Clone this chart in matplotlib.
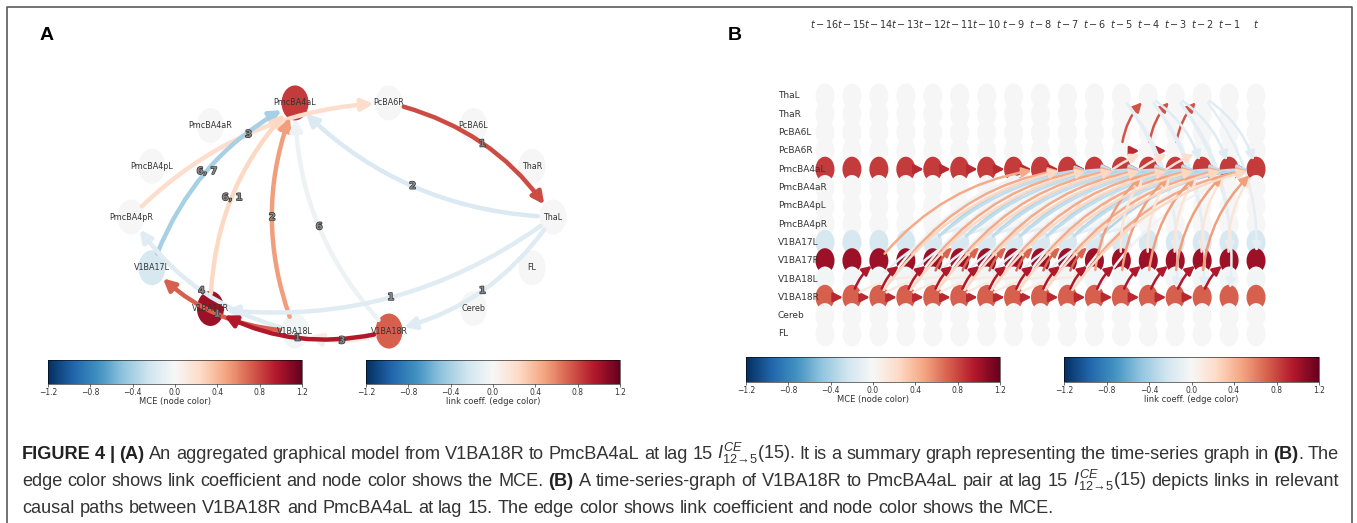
import numpy as np
import matplotlib
matplotlib.use('Agg')
import matplotlib.pyplot as plt
import matplotlib.patheffects as pe
from matplotlib.patches import Ellipse, FancyArrowPatch
from matplotlib.colors import Normalize
from matplotlib import cm

# ── data ──────────────────────────────────────────────────────────────────────
variables = ['ThaL', 'ThaR', 'PcBA6L', 'PcBA6R', 'PmcBA4aL', 'PmcBA4aR',
             'PmcBA4pL', 'PmcBA4pR', 'V1BA17L', 'V1BA17R', 'V1BA18L',
             'V1BA18R', 'Cereb', 'FL']
node_mce = [0.0, 0.0, 0.0, 0.0, 0.84, 0.0, 0.0, 0.0, -0.2, 1.03, -0.03, 0.72, 0.0, 0.0]

# panel A: aggregated links (lag labels as shown on the edges)
a_src  = ['PcBA6R', 'ThaL', 'PmcBA4pR', 'V1BA17L', 'V1BA17R', 'V1BA18L', 'V1BA18R',
          'ThaL', 'ThaL', 'V1BA18L', 'V1BA18R', 'V1BA18L', 'V1BA18R']
a_dst  = ['ThaL', 'PmcBA4aL', 'PcBA6R', 'PmcBA4aL', 'PmcBA4aL', 'PmcBA4aL', 'PmcBA4aL',
          'V1BA17R', 'V1BA18R', 'PmcBA4pR', 'V1BA18L', 'V1BA17L', 'V1BA17R']
a_coef = [0.78, -0.18, 0.22, -0.4, 0.25, 0.5, -0.06, -0.15, -0.15, -0.15, 0.1, 0.72, 0.96]
a_lags = ['1', '2', '3', '6, 7', '6, 1', '2', '6', '1', '1', '4', '3', '1', '1']

# panel B: time-series graph links (target time index range shown)
time_labels = ['$t-16$', '$t-15$', '$t-14$', '$t-13$', '$t-12$', '$t-11$', '$t-10$',
               '$t-9$', '$t-8$', '$t-7$', '$t-6$', '$t-5$', '$t-4$', '$t-3$',
               '$t-2$', '$t-1$', '$t$']
b_src   = ['V1BA18R', 'PmcBA4aL', 'PcBA6R', 'PcBA6R', 'ThaL', 'ThaL', 'ThaL',
           'V1BA18R', 'V1BA18L', 'V1BA18R', 'PmcBA4pR', 'V1BA17L', 'V1BA17L',
           'V1BA17R', 'V1BA17R', 'V1BA18L', 'V1BA18R', 'V1BA18L', 'V1BA18R']
b_dst   = ['V1BA18R', 'PmcBA4aL', 'ThaL', 'PcBA6R', 'PmcBA4aL', 'V1BA17R', 'V1BA18R',
           'PmcBA4aL', 'PmcBA4pR', 'V1BA18L', 'PcBA6R', 'PmcBA4aL', 'PmcBA4aL',
           'PmcBA4aL', 'PmcBA4aL', 'PmcBA4aL', 'V1BA17R', 'V1BA17L', 'PmcBA4aL']
b_lag   = [1, 1, 1, 1, 2, 2, 2, 6, 4, 3, 3, 6, 7, 6, 1, 2, 1, 1, 7]
b_coef  = [0.9, 0.9, 0.75, 0.9, -0.15, -0.12, -0.12, -0.05, -0.12, 0.12, 0.2,
           -0.35, -0.3, 0.45, 0.15, 0.5, 0.96, 0.7, 0.25]
b_first = [1, 4, 12, 12, 14, 13, 13, 8, 6, 4, 12, 10, 11, 8, 12, 12, 2, 5, 9]
b_last  = [14, 16, 14, 13, 16, 16, 15, 16, 12, 10, 14, 16, 16, 16, 16, 16, 15, 10, 16]

cbar_ticks = [-1.2, -0.8, -0.4, 0.0, 0.4, 0.8, 1.2]

caption = [
    r"*FIGURE 4 | (A)* An aggregated graphical model from V1BA18R to PmcBA4aL at lag 15 $I^{CE}_{12\!\to\!5}$(15). It is a summary graph representing the time-series graph in *(B)*. The",
    r"edge color shows link coefficient and node color shows the MCE. *(B)* A time-series-graph of V1BA18R to PmcBA4aL pair at lag 15 $I^{CE}_{12\!\to\!5}$(15) depicts links in relevant",
    r"causal paths between V1BA18R and PmcBA4aL at lag 15. The edge color shows link coefficient and node color shows the MCE.",
]

# ── setup ─────────────────────────────────────────────────────────────────────
plt.rcParams['mathtext.fontset'] = 'custom'
plt.rcParams['mathtext.rm'] = 'Liberation Sans'
plt.rcParams['mathtext.it'] = 'Liberation Sans:italic'
plt.rcParams['mathtext.bf'] = 'Liberation Sans:bold'

W, H = 1357, 523
fig = plt.figure(figsize=(W / 100, H / 100), dpi=100)
ax = fig.add_axes([0, 0, 1, 1])
ax.set_xlim(0, W)
ax.set_ylim(H, 0)
ax.axis('off')

cmap = plt.get_cmap('RdBu_r')
norm = Normalize(-1.2, 1.2)
idx = {v: i for i, v in enumerate(variables)}

# frame
ax.plot([7, 7, 1352, 1352], [H, 7, 7, H], color='#4d4d4d', lw=1.1, zorder=0)

ax.text(47, 35, 'A', fontsize=14, fontweight='bold', family='Liberation Sans',
        ha='center', va='center')
ax.text(735, 35, 'B', fontsize=14, fontweight='bold', family='Liberation Sans',
        ha='center', va='center')


def arc_arrow(p1, p2, val, lw, rad, shrink, hl, hw, z=2):
    a = FancyArrowPatch(p1, p2, connectionstyle=f'arc3,rad={rad}',
                        arrowstyle=f'-|>,head_length={hl},head_width={hw}',
                        mutation_scale=10, lw=lw, color=cmap(norm(val)),
                        shrinkA=shrink, shrinkB=shrink, zorder=z)
    ax.add_patch(a)


# ── panel A: aggregated graph ─────────────────────────────────────────────────
cx, cy, rx, ry = 342, 217, 211, 117
ang = np.arange(len(variables)) * 2 * np.pi / len(variables)
pos_a = {v: (cx + rx * np.cos(t), cy - ry * np.sin(t)) for v, t in zip(variables, ang)}

for v, m in zip(variables, node_mce):
    x, y = pos_a[v]
    ax.add_patch(Ellipse((x, y), 27, 35, color=cmap(norm(m)), lw=0, zorder=1))

RAD = -0.2
for s, d, c, lab in zip(a_src, a_dst, a_coef, a_lags):
    p1, p2 = pos_a[s], pos_a[d]
    arc_arrow(p1, p2, c, 3.2, RAD, 11, 0.7, 0.35)
    dx, dy = p2[0] - p1[0], p2[1] - p1[1]
    mx = (p1[0] + p2[0]) / 2 - 0.5 * RAD * dy
    my = (p1[1] + p2[1]) / 2 + 0.5 * RAD * dx
    ax.text(mx, my, lab, fontsize=7, fontweight='bold', color='#888',
            ha='center', va='center', zorder=4,
            path_effects=[pe.withStroke(linewidth=1.0, foreground='#333')])

for v in variables:
    x, y = pos_a[v]
    ax.text(x, y, v, fontsize=5.8, color='#333', ha='center', va='center', zorder=5)

# ── panel B: time-series graph ────────────────────────────────────────────────
col_x = 825 + np.arange(len(time_labels)) * 26.94
row_y = 96 + np.arange(len(variables)) * 18.3

for i, (v, m) in enumerate(zip(variables, node_mce)):
    for x in col_x:
        ax.add_patch(Ellipse((x, row_y[i]), 19, 25, color=cmap(norm(m)), lw=0, zorder=1))
    ax.text(778, row_y[i], v, fontsize=6.5, color='#333', ha='left', va='center', zorder=5)

for k, lab in enumerate(time_labels):
    ax.text(col_x[k], 24, lab, fontsize=7, color='#333', ha='center', va='center',
            math_fontfamily='dejavusans')

for s, d, lag, c, t0, t1 in zip(b_src, b_dst, b_lag, b_coef, b_first, b_last):
    for t in range(t0, t1 + 1):
        if t - lag < 0:
            continue
        p1 = (col_x[t - lag], row_y[idx[s]])
        p2 = (col_x[t], row_y[idx[d]])
        rad = 0.0 if s == d else -0.2
        arc_arrow(p1, p2, c, 1.8, rad, 6.5, 0.55, 0.28)

# ── colorbars ─────────────────────────────────────────────────────────────────
def add_cbar(x0, x1, y0, y1, label):
    cax = fig.add_axes([x0 / W, 1 - y1 / H, (x1 - x0) / W, (y1 - y0) / H])
    sm = cm.ScalarMappable(norm=norm, cmap=cmap)
    cb = fig.colorbar(sm, cax=cax, orientation='horizontal', ticks=cbar_ticks)
    cb.ax.tick_params(labelsize=5.5, length=2, width=0.5, pad=1, colors='#333')
    cb.set_label(label, fontsize=6, labelpad=0, color='#333')
    cb.outline.set_linewidth(0.4)


add_cbar(48, 302, 360, 384, 'MCE (node color)')
add_cbar(366, 620, 360, 384, 'link coeff. (edge color)')
add_cbar(746, 1000, 357, 382, 'MCE (node color)')
add_cbar(1064, 1319, 357, 382, 'link coeff. (edge color)')

# ── caption (justified, word by word) ─────────────────────────────────────────
renderer = fig.canvas.get_renderer()


def parse(line):
    words = [[]]
    for k, seg in enumerate(line.split('*')):
        bold = k % 2 == 1
        for m, p in enumerate(seg.split(' ')):
            if m > 0:
                words.append([])
            if p:
                words[-1].append((p, bold))
    return [w for w in words if w]


def make_word(word, fs):
    objs, widths = [], []
    for txt, bold in word:
        o = ax.text(0, 0, txt, fontsize=fs, family='Liberation Sans',
                    fontweight='bold' if bold else 'normal',
                    color='#222' if bold else '#333', ha='left', va='baseline')
        objs.append(o)
        widths.append(o.get_window_extent(renderer).width)
    return objs, widths


def line_width(line, fs):
    total = 0
    for w in parse(line):
        objs, ws = make_word(w, fs)
        total += sum(ws)
        for o in objs:
            o.remove()
    return total


def space_width(fs):
    a = ax.text(0, 0, 'a a', fontsize=fs, family='Liberation Sans')
    b = ax.text(0, 0, 'aa', fontsize=fs, family='Liberation Sans')
    s = a.get_window_extent(renderer).width - b.get_window_extent(renderer).width
    a.remove(); b.remove()
    return s


fs0 = 13.0
words3 = parse(caption[2])
nat = line_width(caption[2], fs0) + space_width(fs0) * (len(words3) - 1)
fs = fs0 * 1033 / nat
sp = space_width(fs)

x_left, x_right = 22, 1339
for li, (line, yb) in enumerate(zip(caption, [459, 486, 513])):
    words = parse(line)
    built = [make_word(w, fs) for w in words]
    wsum = sum(sum(ws) for _, ws in built)
    gap = (x_right - x_left - wsum) / (len(words) - 1) if li < 2 else sp
    x = x_left
    for objs, ws in built:
        for o, wd in zip(objs, ws):
            o.set_position((x, yb))
            x += wd
        x += gap

fig.savefig('out.png', dpi=100)
